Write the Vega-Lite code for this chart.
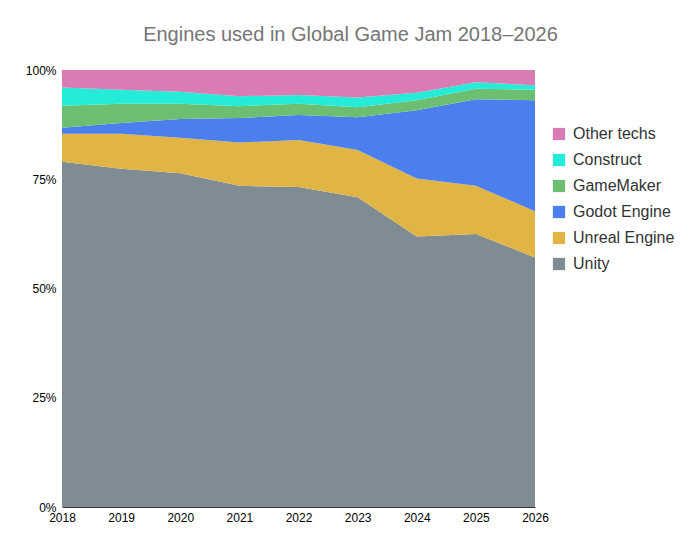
{
  "$schema": "https://vega.github.io/schema/vega-lite/v6.json",
  "autosize": "none",
  "padding": {"left": 62, "top": 70, "right": 164, "bottom": 45},
  "width": 473,
  "height": 437,
  "background": "white",
  "title": {
    "text": "Engines used in Global Game Jam 2018–2026",
    "font": "Liberation Sans",
    "fontSize": 20,
    "fontWeight": "normal",
    "color": "#757575",
    "anchor": "middle",
    "dx": 52,
    "offset": 19
  },
  "data": {
    "values": [
      {"year": 2018, "engine": "Unity", "share": 79.0, "order": 1},
      {"year": 2019, "engine": "Unity", "share": 77.4, "order": 1},
      {"year": 2020, "engine": "Unity", "share": 76.4, "order": 1},
      {"year": 2021, "engine": "Unity", "share": 73.5, "order": 1},
      {"year": 2022, "engine": "Unity", "share": 73.2, "order": 1},
      {"year": 2023, "engine": "Unity", "share": 70.9, "order": 1},
      {"year": 2024, "engine": "Unity", "share": 61.9, "order": 1},
      {"year": 2025, "engine": "Unity", "share": 62.5, "order": 1},
      {"year": 2026, "engine": "Unity", "share": 57.1, "order": 1},
      {"year": 2018, "engine": "Unreal Engine", "share": 6.4, "order": 2},
      {"year": 2019, "engine": "Unreal Engine", "share": 8.0, "order": 2},
      {"year": 2020, "engine": "Unreal Engine", "share": 8.1, "order": 2},
      {"year": 2021, "engine": "Unreal Engine", "share": 9.9, "order": 2},
      {"year": 2022, "engine": "Unreal Engine", "share": 10.8, "order": 2},
      {"year": 2023, "engine": "Unreal Engine", "share": 10.8, "order": 2},
      {"year": 2024, "engine": "Unreal Engine", "share": 13.3, "order": 2},
      {"year": 2025, "engine": "Unreal Engine", "share": 11.0, "order": 2},
      {"year": 2026, "engine": "Unreal Engine", "share": 10.6, "order": 2},
      {"year": 2018, "engine": "Godot Engine", "share": 1.4, "order": 3},
      {"year": 2019, "engine": "Godot Engine", "share": 2.5, "order": 3},
      {"year": 2020, "engine": "Godot Engine", "share": 4.3, "order": 3},
      {"year": 2021, "engine": "Godot Engine", "share": 5.6, "order": 3},
      {"year": 2022, "engine": "Godot Engine", "share": 5.7, "order": 3},
      {"year": 2023, "engine": "Godot Engine", "share": 7.5, "order": 3},
      {"year": 2024, "engine": "Godot Engine", "share": 15.6, "order": 3},
      {"year": 2025, "engine": "Godot Engine", "share": 19.8, "order": 3},
      {"year": 2026, "engine": "Godot Engine", "share": 25.4, "order": 3},
      {"year": 2018, "engine": "GameMaker", "share": 5.0, "order": 4},
      {"year": 2019, "engine": "GameMaker", "share": 4.4, "order": 4},
      {"year": 2020, "engine": "GameMaker", "share": 3.5, "order": 4},
      {"year": 2021, "engine": "GameMaker", "share": 2.7, "order": 4},
      {"year": 2022, "engine": "GameMaker", "share": 2.6, "order": 4},
      {"year": 2023, "engine": "GameMaker", "share": 2.3, "order": 4},
      {"year": 2024, "engine": "GameMaker", "share": 2.3, "order": 4},
      {"year": 2025, "engine": "GameMaker", "share": 2.4, "order": 4},
      {"year": 2026, "engine": "GameMaker", "share": 2.4, "order": 4},
      {"year": 2018, "engine": "Construct", "share": 4.2, "order": 5},
      {"year": 2019, "engine": "Construct", "share": 3.2, "order": 5},
      {"year": 2020, "engine": "Construct", "share": 2.7, "order": 5},
      {"year": 2021, "engine": "Construct", "share": 2.3, "order": 5},
      {"year": 2022, "engine": "Construct", "share": 2.0, "order": 5},
      {"year": 2023, "engine": "Construct", "share": 2.2, "order": 5},
      {"year": 2024, "engine": "Construct", "share": 1.7, "order": 5},
      {"year": 2025, "engine": "Construct", "share": 1.5, "order": 5},
      {"year": 2026, "engine": "Construct", "share": 1.0, "order": 5},
      {"year": 2018, "engine": "Other techs", "share": 4.0, "order": 6},
      {"year": 2019, "engine": "Other techs", "share": 4.5, "order": 6},
      {"year": 2020, "engine": "Other techs", "share": 5.0, "order": 6},
      {"year": 2021, "engine": "Other techs", "share": 6.0, "order": 6},
      {"year": 2022, "engine": "Other techs", "share": 5.7, "order": 6},
      {"year": 2023, "engine": "Other techs", "share": 6.3, "order": 6},
      {"year": 2024, "engine": "Other techs", "share": 5.2, "order": 6},
      {"year": 2025, "engine": "Other techs", "share": 2.8, "order": 6},
      {"year": 2026, "engine": "Other techs", "share": 3.5, "order": 6}
    ]
  },
  "mark": {"type": "area", "interpolate": "linear"},
  "encoding": {
    "x": {
      "field": "year",
      "type": "quantitative",
      "scale": {"domain": [2018, 2026], "nice": false, "zero": false},
      "axis": {
        "title": null,
        "format": "d",
        "values": [2018, 2019, 2020, 2021, 2022, 2023, 2024, 2025, 2026],
        "grid": false,
        "ticks": false,
        "labelPadding": 5,
        "domainColor": "#333333",
        "labelFlush": false
      }
    },
    "y": {
      "field": "share",
      "type": "quantitative",
      "stack": "normalize",
      "axis": {
        "title": null,
        "format": ".0%",
        "values": [0, 0.25, 0.5, 0.75, 1],
        "grid": false,
        "ticks": false,
        "labelPadding": 6,
        "domainColor": "#dddddd"
      }
    },
    "color": {
      "field": "engine",
      "type": "nominal",
      "scale": {
        "domain": ["Other techs", "Construct", "GameMaker", "Godot Engine", "Unreal Engine", "Unity"],
        "range": ["#d97cb3", "#25ecd9", "#6cbe71", "#4a7fed", "#e0b546", "#808c94"]
      },
      "legend": {
        "title": null,
        "orient": "none",
        "legendX": 489,
        "legendY": 56,
        "symbolType": "square",
        "symbolSize": 150,
        "symbolStrokeWidth": 0,
        "symbolOpacity": 1,
        "labelFontSize": 16,
        "labelColor": "#333333",
        "labelFont": "Liberation Sans",
        "rowPadding": 10,
        "labelOffset": 6
      }
    },
    "order": {"field": "order", "type": "quantitative"}
  },
  "config": {
    "font": "Liberation Sans",
    "view": {"stroke": null},
    "axis": {
      "labelFont": "Liberation Sans",
      "labelFontSize": 12,
      "labelColor": "#000000"
    }
  }
}
